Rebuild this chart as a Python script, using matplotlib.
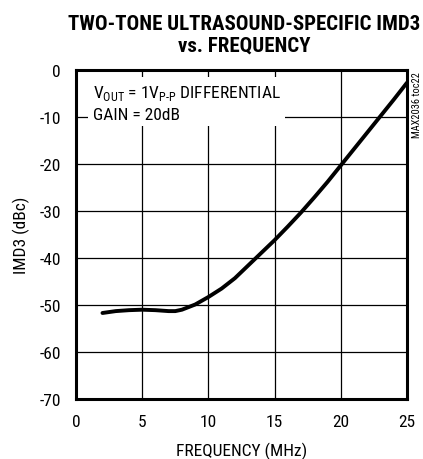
import matplotlib.pyplot as plt

# curve
freq = [2, 3, 4, 5, 6, 7, 7.5, 8, 9, 10, 11, 12, 13, 14, 15, 16, 17, 18, 19, 20, 21, 22, 23, 24, 25]
imd3 = [-51.7, -51.3, -51.1, -51.0, -51.1, -51.3, -51.3, -51.0, -49.9, -48.3, -46.5, -44.3, -41.6,
        -38.9, -36.2, -33.3, -30.3, -27.1, -23.8, -20.3, -16.8, -13.3, -9.8, -6.3, -2.7]
xticks = [0, 5, 10, 15, 20, 25]
yticks = [0, -10, -20, -30, -40, -50, -60, -70]

plt.rcParams['font.family'] = ['Roboto Condensed', 'DejaVu Sans']
plt.rcParams['mathtext.fontset'] = 'custom'
plt.rcParams['mathtext.rm'] = 'Roboto Condensed'

fig = plt.figure(figsize=(4.23, 4.60), dpi=100)
ax = fig.add_axes([76/423, 1-400/460, (407-76)/423, (400-71)/460])

ax.plot(freq, imd3, color='black', lw=2.8, solid_capstyle='round', zorder=4)

ax.set_xlim(0, 25)
ax.set_ylim(-70, 0)
ax.set_xticks(xticks)
ax.set_yticks(yticks)
ax.set_yticklabels([str(v) for v in yticks])
ax.grid(True, color='black', lw=0.9)
ax.tick_params(length=0, labelsize=12.5, pad=11)
for s in ax.spines.values():
    s.set_linewidth(2.2)

ax.set_xlabel('FREQUENCY (MHz)', fontsize=12.5, labelpad=9)
ax.set_ylabel('IMD3 (dBc)', fontsize=12.5, labelpad=7)

ax.text(1.25, -6.9, r'V$_{\mathregular{OUT}}$ = 1V$_{\mathregular{P\text{-}P}}$ DIFFERENTIAL' + '\nGAIN = 20dB',
        fontsize=12.5, va='center', ha='left', linespacing=1.4, zorder=3,
        bbox=dict(facecolor='white', edgecolor='none', pad=3))

fig.text(0.577, 0.968, 'TWO-TONE ULTRASOUND-SPECIFIC IMD3\nvs. FREQUENCY', ha='center', va='top',
         fontsize=15, fontweight=800, linespacing=1.2)
fig.text(417/423, 1-72/460, 'MAX2036 toc22', rotation=90, fontsize=7.5, ha='center', va='top')

fig.savefig('out.png', dpi=100)
